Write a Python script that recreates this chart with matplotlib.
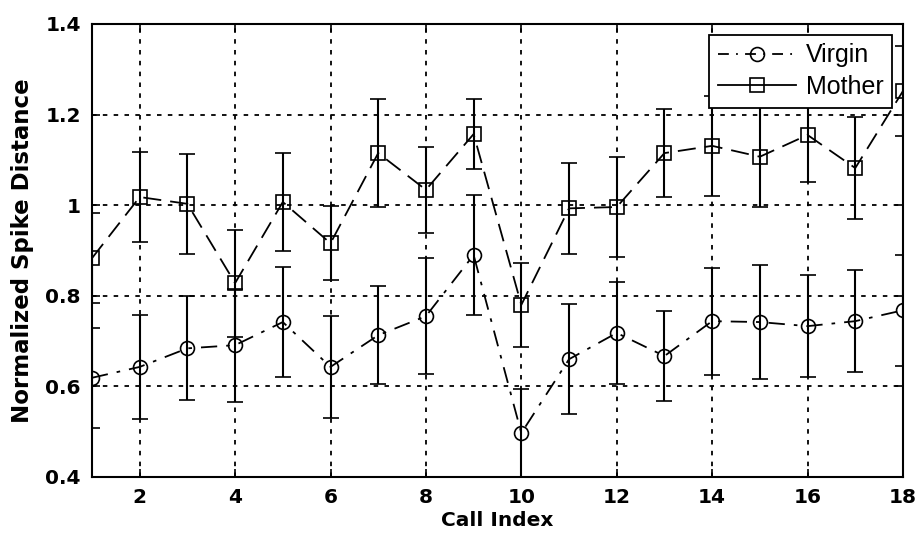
import matplotlib
matplotlib.use("Agg")
import matplotlib.pyplot as plt
from matplotlib.lines import Line2D

# data
call_index = list(range(1, 19))
virgin = [0.619, 0.643, 0.684, 0.691, 0.742, 0.643, 0.713, 0.755, 0.890,
          0.497, 0.660, 0.718, 0.667, 0.744, 0.742, 0.733, 0.744, 0.768]
virgin_err = [0.110, 0.115, 0.115, 0.125, 0.122, 0.113, 0.108, 0.128, 0.133,
              0.097, 0.122, 0.113, 0.100, 0.118, 0.126, 0.112, 0.113, 0.122]
mother = [0.883, 1.018, 1.003, 0.828, 1.007, 0.916, 1.115, 1.034, 1.157,
          0.780, 0.993, 0.996, 1.115, 1.131, 1.107, 1.155, 1.082, 1.252]
mother_err = [0.100, 0.100, 0.110, 0.118, 0.108, 0.082, 0.120, 0.095, 0.077,
              0.092, 0.100, 0.110, 0.097, 0.110, 0.110, 0.104, 0.113, 0.100]
x_ticks = [2, 4, 6, 8, 10, 12, 14, 16, 18]
y_ticks = [0.4, 0.6, 0.8, 1.0, 1.2, 1.4]
y_labels = ['0.4', '0.6', '0.8', '1', '1.2', '1.4']

virgin_ls = (0, (9, 5, 2, 5))
mother_ls = (0, (10, 5))

fig = plt.figure(figsize=(9.17, 5.38), dpi=100)
ax = fig.add_axes([0.1003, 0.1134, 0.8844, 0.842])

ax.errorbar(call_index, virgin, yerr=virgin_err, color='black', lw=1.3,
            ls=virgin_ls, marker='o', ms=10, mfc='none', mec='black',
            mew=1.2, ecolor='black', elinewidth=1.5, capsize=5.5, capthick=1.5,
            zorder=3)
ax.errorbar(call_index, mother, yerr=mother_err, color='black', lw=1.3,
            ls=mother_ls, marker='s', ms=10, mfc='none', mec='black',
            mew=1.2, ecolor='black', elinewidth=1.5, capsize=5.5, capthick=1.5,
            zorder=3)

ax.set_xlim(1, 18)
ax.set_ylim(0.4, 1.4)
ax.set_xticks(x_ticks)
ax.set_yticks(y_ticks)
ax.set_yticklabels(y_labels)
ax.tick_params(direction='in', length=6, width=1.2, top=True, right=True,
               labelsize=14.5, pad=8)
for lab in ax.get_xticklabels() + ax.get_yticklabels():
    lab.set_fontweight('bold')
    lab.set_family('DejaVu Sans')
ax.grid(True, color='black', ls=(0, (2.5, 3.5)), lw=1.3)
for s in ax.spines.values():
    s.set_linewidth(1.5)

ax.set_xlabel('Call Index', fontsize=14.5, fontweight='bold',
              family='DejaVu Sans', labelpad=3)
ax.set_ylabel('Normalized Spike Distance', fontsize=16.5, fontweight='bold',
              family='DejaVu Sans', labelpad=8)

handles = [
    Line2D([], [], color='black', lw=1.3, ls=(0, (6, 4, 1, 4)), marker='o',
           ms=10, mfc='none', mec='black', mew=1.2),
    Line2D([], [], color='black', lw=1.3, ls='-', marker='s',
           ms=10, mfc='none', mec='black', mew=1.2),
]
leg = ax.legend(handles, ['Virgin', 'Mother'], loc='upper right',
                bbox_to_anchor=(0.9865, 0.9765),
                prop={'family': 'Liberation Sans', 'size': 18},
                fancybox=False, framealpha=1, edgecolor='black',
                handlelength=3.1, borderpad=0.35, labelspacing=0.3,
                handletextpad=0.4, borderaxespad=0)
leg.get_frame().set_linewidth(1.3)

fig.savefig('out.png', dpi=100)
